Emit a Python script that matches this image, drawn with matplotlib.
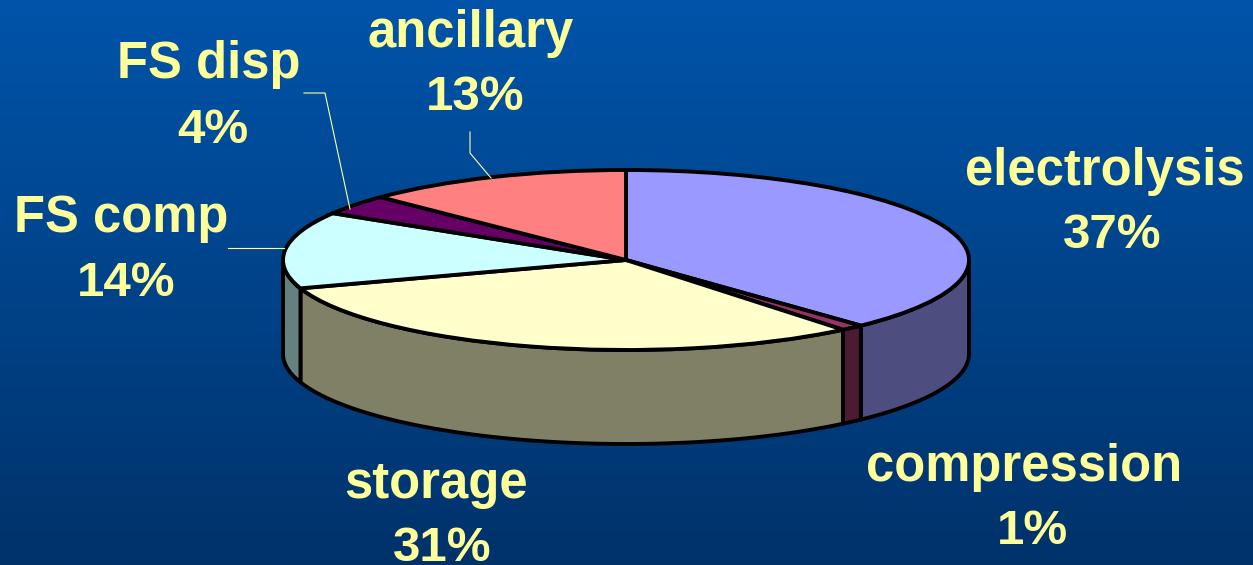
import numpy as np
import matplotlib
matplotlib.use("Agg")
import matplotlib.pyplot as plt

plt.rcParams['font.family'] = ['Liberation Sans', 'DejaVu Sans']

# slices go clockwise from 12 o'clock
names = ['electrolysis', 'compression', 'storage', 'FS comp', 'FS disp', 'ancillary']
# printed percentages
shares = [37, 1, 31, 14, 4, 13]
# slice sizes as they look in the picture, the printed ones are rounded
slice_sizes = [38.0, 1.1, 30.8, 13.8, 3.6, 12.7]
top_colors = ['#9999FF', '#993366', '#FFFFCC', '#CCFFFF', '#660066', '#FF8080']
side_colors = ['#4D4D80', '#4D1A33', '#808066', '#668080', '#330033', '#804040']

W, H = 1253, 565
cx, cy = 626, 260
rx, ry = 343, 90
depth = 94
squash = ry / rx
label_color = '#FFFF99'
edge = 'black'


def yd(py):
    # picture y to data y, the pie is a circle in data space and gets squashed
    return (H - py) / squash


fig = plt.figure(figsize=(W / 100, H / 100), dpi=100)
ax = fig.add_axes([0, 0, 1, 1])

# background gradient
grad = np.linspace(0, 1, 256).reshape(-1, 1)
c_top = np.array([0, 84, 170]) / 255
c_bot = np.array([0, 50, 106]) / 255
bg = (c_top + (c_bot - c_top) * grad)[:, np.newaxis, :].reshape(256, 1, 3)
ax.imshow(bg, extent=[0, W, yd(H), yd(0)], aspect='auto', origin='upper', zorder=0)

# side walls, only the front half of the rim shows
ends = np.cumsum(slice_sizes) / np.sum(slice_sizes) * 360
starts = np.concatenate([[0], ends[:-1]])
for a1, a2, col in zip(starts, ends, side_colors):
    lo, hi = max(a1, 90), min(a2, 270)
    if hi <= lo:
        continue
    t = np.radians(np.linspace(lo, hi, 60))
    xs = cx + rx * np.sin(t)
    ys = yd(cy) + rx * np.cos(t)
    ax.fill(np.concatenate([xs, xs[::-1]]),
            np.concatenate([ys - depth / squash, ys[::-1]]),
            facecolor=col, edgecolor=edge, linewidth=2.8, joinstyle='round', zorder=2)

# top face
wedges, _ = ax.pie(slice_sizes, colors=top_colors, startangle=90, counterclock=False,
                   center=(cx, yd(cy)), radius=rx, frame=True,
                   wedgeprops=dict(edgecolor=edge, linewidth=2.8, zorder=3))

ax.set_xlim(0, W)
ax.set_ylim(yd(H), yd(0))
ax.set_aspect('auto')
ax.axis('off')

# leader lines
ax.plot([304, 325, 350], [yd(93), yd(93), yd(209)], color=label_color, lw=0.8, zorder=4)
ax.plot([470, 470, 491], [yd(132), yd(153), yd(178)], color=label_color, lw=0.8, zorder=4)
ax.plot([228, 284], [yd(248), yd(248)], color=label_color, lw=0.8, zorder=4)

# labels: name x, name baseline, percent x, percent baseline
label_pos = {
    'electrolysis': (1105, 185, 1112, 248),
    'compression': (1024, 481, 1032, 544),
    'storage': (436, 498, 442, 561),
    'FS comp': (121, 232, 126, 296),
    'FS disp': (209, 78, 213, 143),
    'ancillary': (471, 47, 475, 110),
}
for name, share in zip(names, shares):
    nx, ny, px, py = label_pos[name]
    ax.text(nx, yd(ny), name, color=label_color, fontsize=36.5,
            fontweight='bold', ha='center', va='baseline', zorder=5)
    ax.text(px, yd(py), f'{share}%', color=label_color, fontsize=35.5,
            fontweight='bold', ha='center', va='baseline', zorder=5)

fig.savefig('out.png', dpi=100)
